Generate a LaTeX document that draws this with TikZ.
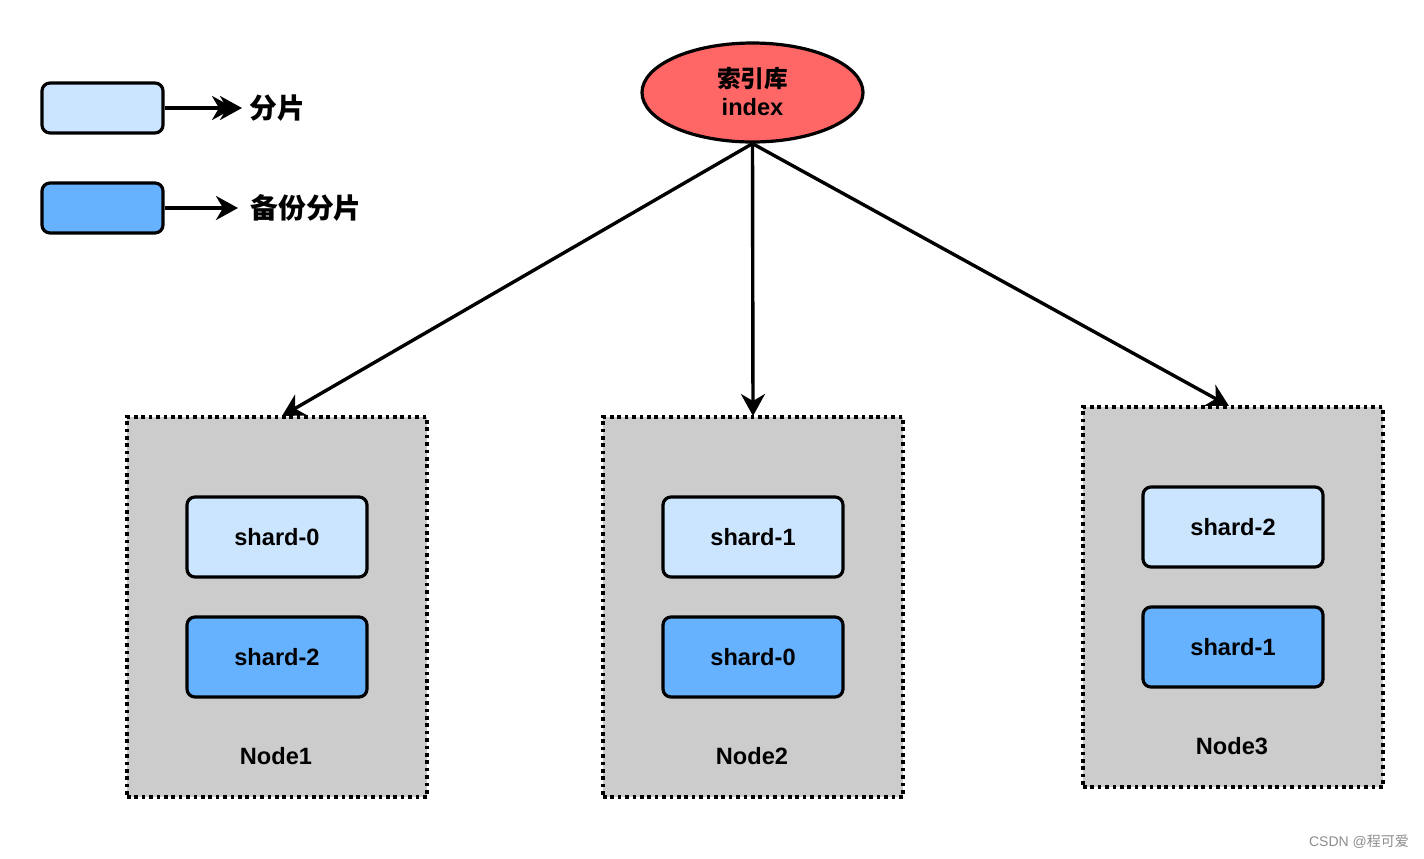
\documentclass[tikz,border=0pt]{standalone}
\usepackage{fontspec}
\setmainfont{Liberation Sans}
\newfontfamily\cjk{Noto Sans CJK SC}
\usetikzlibrary{shapes.geometric,arrows.meta}
\definecolor{primcol}{HTML}{CCE5FF}
\definecolor{repcol}{HTML}{66B2FF}
\definecolor{idxcol}{HTML}{FF6666}
\definecolor{hostcol}{HTML}{CCCCCC}
\tikzset{
  lbl/.style={font=\fontsize{11.8pt}{14pt}\selectfont\bfseries},
  cjklbl/.style={font=\fontsize{13.9pt}{16pt}\selectfont\cjk\bfseries},
  shardbox/.style={draw, line width=1.6pt, rounded corners=4pt, minimum width=90pt, minimum height=40pt, inner sep=0pt, lbl},
  pshard/.style={shardbox, fill=primcol},
  rshard/.style={shardbox, fill=repcol},
  hostbox/.style={draw, line width=1.8pt, dash pattern=on 1.8pt off 1.9pt, fill=hostcol, minimum width=150pt, minimum height=190pt, inner sep=0pt},
  legbox/.style={draw, line width=1.6pt, rounded corners=4pt, minimum width=60.5pt, minimum height=25pt, inner sep=0pt},
  conn/.style={line width=1.7pt, -{Stealth[length=11pt,width=12pt,inset=3.5pt]}},
}
\begin{document}
\begin{tikzpicture}[x=0.5pt,y=-0.5pt]
\useasboundingbox (0,0) rectangle (1424,858);
% legend
\node[legbox, fill=primcol] (lg1) at (102.5,108) {};
\node[legbox, fill=repcol] (lg2) at (102.5,208) {};
\coordinate (la1) at (242,108);
\coordinate (la1b) at (234,108);
\coordinate (la2) at (238,208);
\draw[conn] (lg1.east) -- (la1b);
\draw[conn] (lg1.east) -- (la1);
\draw[conn] (lg2.east) -- (la2);
\node[cjklbl, anchor=west, inner sep=0pt] (lt1) at (249,108) {分片};
\node[cjklbl, anchor=west, inner sep=0pt] (lt2) at (250,208) {备份分片};
% index
\node[ellipse, draw, line width=1.6pt, fill=idxcol, minimum width=110.5pt, minimum height=49.5pt, inner sep=0pt, align=center] (idx) at (752.5,92.5) {};
\node[inner sep=0pt, align=center] (idxt) at (752.5,91)
  {{\cjk\bfseries\fontsize{11.8pt}{14pt}\selectfont 索引库}\\[2pt]{\bfseries\fontsize{11.8pt}{14pt}\selectfont index}};
% hosts
\node[hostbox] (h1) at (277,607) {};
\node[hostbox] (h2) at (753,607) {};
\node[hostbox] (h3) at (1233,597) {};
\node[pshard] (s10) at (277,537) {shard-0};
\node[rshard] (s12) at (277,657) {shard-2};
\node[pshard] (s21) at (753,537) {shard-1};
\node[rshard] (s20) at (753,657) {shard-0};
\node[pshard] (s32) at (1233,527) {shard-2};
\node[rshard] (s31) at (1233,647) {shard-1};
\node[lbl] (hl1) at (276,756) {Node1};
\node[lbl] (hl2) at (752,756) {Node2};
\node[lbl] (hl3) at (1232,746) {Node3};
% connectors
\coordinate (t1) at (282,416);
\coordinate (t2) at (753,416);
\coordinate (t3) at (1229,406);
\draw[conn] (idx.south) -- (t1);
\draw[conn] (idx.south) -- (t2);
\draw[conn] (idx.south) -- (t3);
% watermark
\node[text=black!45, font=\fontsize{7pt}{8pt}\selectfont, inner sep=0pt] (wm) at (1359,842) {CSDN @{\cjk 程可爱}};
\end{tikzpicture}
\end{document}
